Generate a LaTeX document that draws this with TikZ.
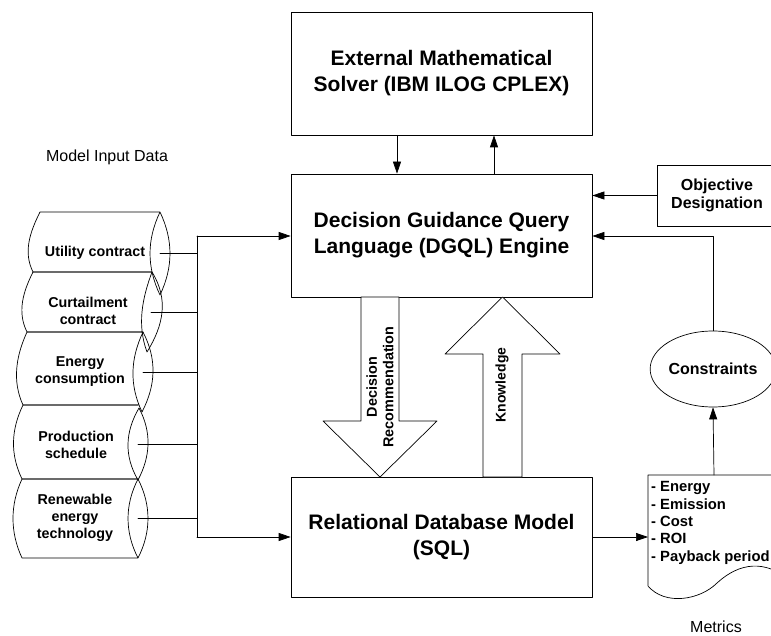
\documentclass[tikz,border=0pt]{standalone}
\usepackage{fontspec}
\setmainfont{Liberation Sans}
\usetikzlibrary{arrows.meta,shapes.geometric}

\begin{document}
\begin{tikzpicture}[x=1pt,y=-1pt,
	line/.style={BLACK, solid, line join=round, line cap=round, line width=0.7},
	conn/.style={line, -{Triangle[length=12pt,width=8pt]}},
	block/.style={line, draw, fill=WHITE, minimum width=301pt, align=center,
		font=\fontsize{21}{26}\selectfont\bfseries},
	label/.style={align=center, inner sep=0, font=\fontsize{14.3}{17}\selectfont\bfseries},
	mid/.style={align=center, font=\fontsize{16}{18.7}\selectfont\bfseries},
	caption/.style={inner sep=0, font=\fontsize{16}{19}\selectfont}]

\definecolor{BLACK}{RGB}{0,0,0}
\definecolor{WHITE}{RGB}{255,255,255}
\useasboundingbox (0,0) rectangle (771,636);

\node[block, minimum height=123pt] (solver) at (441.5,73.5)
	{External Mathematical\\Solver (IBM ILOG CPLEX)};
\node[block, minimum height=123pt] (dgql) at (441.5,235.5)
	{Decision Guidance Query\\Language (DGQL) Engine};
\node[block, minimum height=120pt] (db) at (441.5,537)
	{Relational Database Model\\(SQL)};
\node[line, draw, mid, minimum width=120pt, minimum height=61pt] (objective) at (717,195.5)
	{Objective\\Designation};
\node[line, draw, mid, ellipse, inner sep=0, minimum width=124pt, minimum height=76pt] (constraints)
	at (713,369) {Constraints};

\node[caption] (inputtitle) at (107,157) {Model Input Data};
\node[caption, anchor=base] (metricstitle) at (716,632) {Metrics};

% input data stores
\draw[line] (40,212) -- (160,212) (33,272) -- (152,272)
	(40,212) .. controls (30,232) and (23,252) .. (33,272)
	(160,212) .. controls (146.7,240) and (146.7,267) .. (160,295)
	.. controls (173.3,267) and (173.3,240) .. (160,212);
\coordinate (utility) at (160,253.5);
\node[label] (utilitytext) at (95,253) {Utility contract};

\draw[line] (33,272) -- (152,272) (27,332) -- (143,332)
	(33,272) .. controls (23,292) and (17,312) .. (27,332)
	(152,272) .. controls (142,299) and (137,325) .. (147,352)
	.. controls (163.7,325) and (168.7,299) .. (152,272);
\coordinate (curtailment) at (151,312);
\node[label] (curtailmenttext) at (88,311) {Curtailment\\contract};

\draw[line] (27,332) -- (143,332) (23,405) -- (138,405)
	(27,332) .. controls (16,356) and (12,381) .. (23,405)
	(143,332) .. controls (130.3,359) and (129.3,385) .. (142,412)
	.. controls (156,385) and (157,359) .. (143,332);
\coordinate (energy) at (143,372);
\node[label] (energytext) at (80,372) {Energy\\consumption};

\draw[line] (23,405) -- (138,405) (22,479) -- (138,479)
	(23,405) .. controls (11,430) and (10,454) .. (22,479)
	(139,408) .. controls (125,432) and (124,456) .. (138,480)
	.. controls (150.7,456) and (151.7,432) .. (139,408);
\coordinate (production) at (138,444);
\node[label] (productiontext) at (76,445) {Production\\schedule};

\draw[line] (22,479) -- (138,479) (22,558) -- (138,558)
	(22,479) .. controls (10,505) and (10,532) .. (22,558)
	(138,479) .. controls (124.7,505) and (124.7,532) .. (138,558)
	.. controls (151.3,532) and (151.3,505) .. (138,479);
\coordinate (renewable) at (138,518.5);
\node[label] (renewabletext) at (75,518) {Renewable\\energy\\technology};

% bus into the engine and the database
\coordinate (bustop) at (197,236);
\coordinate (busbot) at (197,537);
\draw[line] (bustop) -- (busbot);
\draw[conn] (bustop) -- (dgql.west |- bustop);
\draw[conn] (busbot) -- (db.west |- busbot);
\draw[line] (utility) -- (utility -| bustop);
\draw[line] (curtailment) -- (curtailment -| bustop);
\draw[line] (energy) -- (energy -| bustop);
\draw[line] (production) -- (production -| bustop);
\draw[line] (renewable) -- (renewable -| bustop);

% solver and engine
\draw[conn] ([xshift=-44.5pt]solver.south) -- ([xshift=-44.5pt]dgql.north);
\draw[conn] ([xshift=52.5pt]dgql.north) -- ([xshift=52.5pt]solver.south);

% block arrows
\draw[line, fill=WHITE] (361,297) -- (399,297) -- (399,421) -- (437,421) -- (380,477)
	-- (323,421) -- (361,421) -- cycle;
\node[label, rotate=90, font=\fontsize{14.4}{16.5}\selectfont\bfseries] (decision) at (380,387)
	{Decision\\Recommendation};
\draw[line, fill=WHITE] (483,477) -- (483,354) -- (445,354) -- (502.5,297) -- (560,354)
	-- (522,354) -- (522,477) -- cycle;
\node[label, rotate=90, font=\fontsize{14}{16}\selectfont\bfseries] (knowledge) at (502,385)
	{Knowledge};

% metrics document
\draw[line, fill=WHITE] (648,475) -- (790,475) -- (790,580)
	.. controls (765,560) and (740,562) .. (717,583)
	.. controls (700,600) and (665,606) .. (648,586) -- cycle;
\coordinate (doctop) at (714,475);
\coordinate (docwest) at (648,537);
\node[label, anchor=west, align=left, font=\fontsize{14.8}{17.4}\selectfont\bfseries] (metrics)
	at (651,523) {- Energy\\- Emission\\- Cost\\- ROI\\- Payback period};

% right side
\draw[conn] (objective.west) -- (objective.west -| dgql.east);
\coordinate (turn) at (713,236);
\draw[conn] (constraints.north) -- (turn) -- (turn -| dgql.east);
\draw[conn] (doctop) -- (constraints.south);
\draw[conn] (db.east |- docwest) -- (docwest);
\end{tikzpicture}
\end{document}
